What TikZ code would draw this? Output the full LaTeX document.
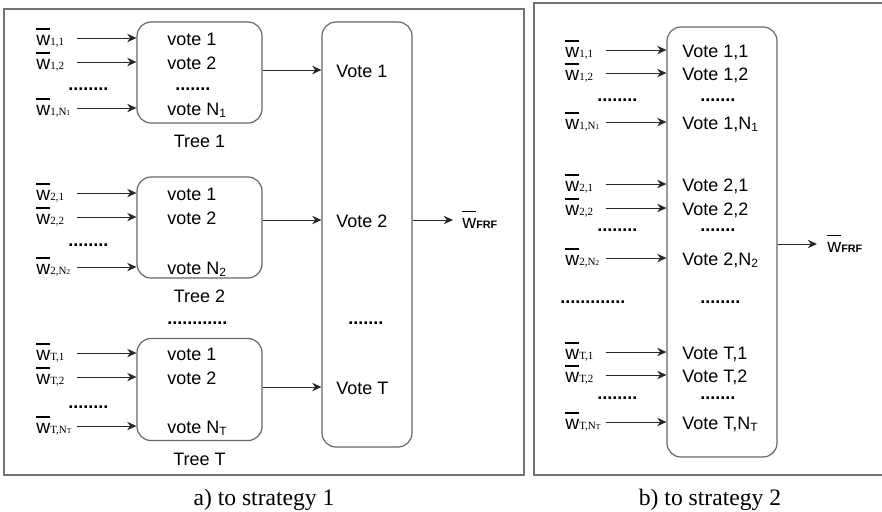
\documentclass[tikz,border=0pt]{standalone}
\usepackage{fontspec}
\setmainfont{Liberation Sans}
\newfontfamily\capfont{Liberation Serif}
\usepackage{tikz}
\usetikzlibrary{positioning,arrows.meta}
\usepackage{xcolor}
% peso con barra y subindice
\newcommand{\wv}[1]{{\fontsize{9.6}{10}\selectfont\makebox[0pt][l]{\rule[0.85em]{0.7em}{0.06em}}w}{\capfont\fontsize{5.5}{6}\selectfont#1}}
\newcommand{\nsub}[1]{{\fontsize{3.8}{4}\selectfont#1}}
\newcommand{\wfrf}{{\fontsize{9.6}{10}\selectfont\makebox[0pt][l]{\rule[0.85em]{0.7em}{0.06em}}w}{\fontsize{5.4}{6}\selectfont\bfseries FRF}}

\begin{document}
\begin{tikzpicture}[x=0.5pt,y=-0.5pt,
  marco/.style={draw=black!55, line width=1pt},
  caja/.style={draw=black!60, line width=0.6pt, rounded corners=7pt, inner sep=0pt},
  flecha/.style={draw=black!85, line width=0.5pt, -{Stealth[length=4.6pt,width=4.2pt,inset=1.5pt]}},
  txt/.style={inner sep=0pt, anchor=west, font=\fontsize{9}{10}\selectfont, text height=0.72em, text depth=0pt},
  wlab/.style={inner sep=0pt, anchor=west},
  puntos/.style={inner sep=0pt, anchor=base west, font=\fontsize{9}{10}\selectfont\bfseries},
  pie/.style={inner sep=0pt, anchor=base, font=\capfont\fontsize{11.8}{13}\selectfont}]
\useasboundingbox (0,0) rectangle (882,511);

%====================================================
% MARCOS
%====================================================
\draw[marco] (4,9) rectangle (524,475);
\draw[marco] (882,3) -- (534,3) -- (534,475) -- (882,475);

%====================================================
% a) ESTRATEGIA 1
%====================================================
\node[caja, minimum width=62.5pt, minimum height=50.5pt] (t1) at (199.5,72.5) {};
\node[caja, minimum width=62.5pt, minimum height=50.5pt] (t2) at (199.5,227.5) {};
\node[caja, minimum width=62.5pt, minimum height=51pt] (tT) at (199.5,389.5) {};
\node[txt, below=4.75pt of t1] (lt1) {Tree 1};
\node[txt, below=4.75pt of t2] (lt2) {Tree 2};
\node[txt, below=4.75pt of tT] (ltT) {Tree T};

\node[txt] (t1v1) at (167,38) {vote 1};
\node[txt] (t1v2) at (167,62) {vote 2};
\node[puntos] (t1vd) at (175,90.5) {.......};
\node[txt] (t1vn) at (167,108) {vote N\textsubscript{1}};
\node[txt] (t2v1) at (167,193) {vote 1};
\node[txt] (t2v2) at (167,217) {vote 2};
\node[txt] (t2vn) at (167,267) {vote N\textsubscript{2}};
\node[txt] (tTv1) at (167,353) {vote 1};
\node[txt] (tTv2) at (167,377) {vote 2};
\node[txt] (tTvn) at (167,426) {vote N\textsubscript{T}};

\coordinate (inA) at (77,0);
\node[wlab] (w11) at (36,38) {\wv{1,1}};
\node[wlab] (w12) at (36,62) {\wv{1,2}};
\node[puntos] (d1) at (68,90.5) {........};
\node[wlab] (w1n) at (36,108) {\wv{1,N\nsub{1}}};
\node[wlab] (w21) at (36,193) {\wv{2,1}};
\node[wlab] (w22) at (36,217) {\wv{2,2}};
\node[puntos] (d2) at (68,246.5) {........};
\node[wlab] (w2n) at (36,267) {\wv{2,N\nsub{2}}};
\node[puntos] (dl) at (167,324.5) {............};
\node[wlab] (wT1) at (36,353) {\wv{T,1}};
\node[wlab] (wT2) at (36,377) {\wv{T,2}};
\node[puntos] (dT) at (68,408.5) {........};
\node[wlab] (wTn) at (36,426) {\wv{T,N\nsub{T}}};

\draw[flecha] (w11.east -| inA) -- (w11.east -| t1.west);
\draw[flecha] (w12.east -| inA) -- (w12.east -| t1.west);
\draw[flecha] (w1n.east -| inA) -- (w1n.east -| t1.west);
\draw[flecha] (w21.east -| inA) -- (w21.east -| t2.west);
\draw[flecha] (w22.east -| inA) -- (w22.east -| t2.west);
\draw[flecha] (w2n.east -| inA) -- (w2n.east -| t2.west);
\draw[flecha] (wT1.east -| inA) -- (wT1.east -| tT.west);
\draw[flecha] (wT2.east -| inA) -- (wT2.east -| tT.west);
\draw[flecha] (wTn.east -| inA) -- (wTn.east -| tT.west);

\node[caja, minimum width=45pt, minimum height=212.5pt] (vb) at (367,234.5) {};
\node[txt] (vb1) at (336,70) {Vote 1};
\node[txt] (vb2) at (336,220) {Vote 2};
\node[puntos] (vbd) at (348,324.5) {.......};
\node[txt] (vbT) at (336,387) {Vote T};
\draw[flecha] (vb1 -| t1.east) -- (vb1 -| vb.west);
\draw[flecha] (vb2 -| t2.east) -- (vb2 -| vb.west);
\draw[flecha] (vbT -| tT.east) -- (vbT -| vb.west);

\node[wlab] (wfa) at (462,220) {\wfrf};
\draw[flecha, shorten >=4.5pt] (vb2 -| vb.east) -- (wfa.west);

%====================================================
% b) ESTRATEGIA 2
%====================================================
\node[caja, minimum width=55pt, minimum height=215pt] (vr) at (722,242) {};
\node[txt] (r11) at (682,50) {Vote 1,1};
\node[txt] (r12) at (682,73) {Vote 1,2};
\node[puntos] (rd1) at (700,101.5) {.......};
\node[txt] (r1n) at (682,122) {Vote 1,N\textsubscript{1}};
\node[txt] (r21) at (682,184) {Vote 2,1};
\node[txt] (r22) at (682,208) {Vote 2,2};
\node[puntos] (rd2) at (700,231.5) {.......};
\node[txt] (r2n) at (682,258) {Vote 2,N\textsubscript{2}};
\node[puntos] (rdm) at (700,303.5) {........};
\node[txt] (rT1) at (682,352) {Vote T,1};
\node[txt] (rT2) at (682,375) {Vote T,2};
\node[puntos] (rdT) at (700,399.5) {.......};
\node[txt] (rTn) at (682,422) {Vote T,N\textsubscript{T}};

\coordinate (inB) at (606,0);
\node[wlab] (u11) at (565,50) {\wv{1,1}};
\node[wlab] (u12) at (565,73) {\wv{1,2}};
\node[puntos] (e1) at (597,101.5) {........};
\node[wlab] (u1n) at (565,122) {\wv{1,N\nsub{1}}};
\node[wlab] (u21) at (565,184) {\wv{2,1}};
\node[wlab] (u22) at (565,208) {\wv{2,2}};
\node[puntos] (e2) at (597,231.5) {........};
\node[wlab] (u2n) at (565,258) {\wv{2,N\nsub{2}}};
\node[puntos] (em) at (560,303.5) {.............};
\node[wlab] (uT1) at (565,352) {\wv{T,1}};
\node[wlab] (uT2) at (565,375) {\wv{T,2}};
\node[puntos] (eT) at (597,399.5) {........};
\node[wlab] (uTn) at (565,422) {\wv{T,N\nsub{T}}};

\draw[flecha] (u11.east -| inB) -- (u11.east -| vr.west);
\draw[flecha] (u12.east -| inB) -- (u12.east -| vr.west);
\draw[flecha] (u1n.east -| inB) -- (u1n.east -| vr.west);
\draw[flecha] (u21.east -| inB) -- (u21.east -| vr.west);
\draw[flecha] (u22.east -| inB) -- (u22.east -| vr.west);
\draw[flecha] (u2n.east -| inB) -- (u2n.east -| vr.west);
\draw[flecha] (uT1.east -| inB) -- (uT1.east -| vr.west);
\draw[flecha] (uT2.east -| inB) -- (uT2.east -| vr.west);
\draw[flecha] (uTn.east -| inB) -- (uTn.east -| vr.west);

\node[wlab] (wfb) at (827,244) {\wfrf};
\draw[flecha, shorten >=5pt] (wfb.west -| vr.east) -- (wfb.west);

%====================================================
% PIES
%====================================================
\node[pie] (capA) at (264,505) {a) to strategy 1};
\node[pie] (capB) at (710,505) {b) to strategy 2};
\end{tikzpicture}
\end{document}
